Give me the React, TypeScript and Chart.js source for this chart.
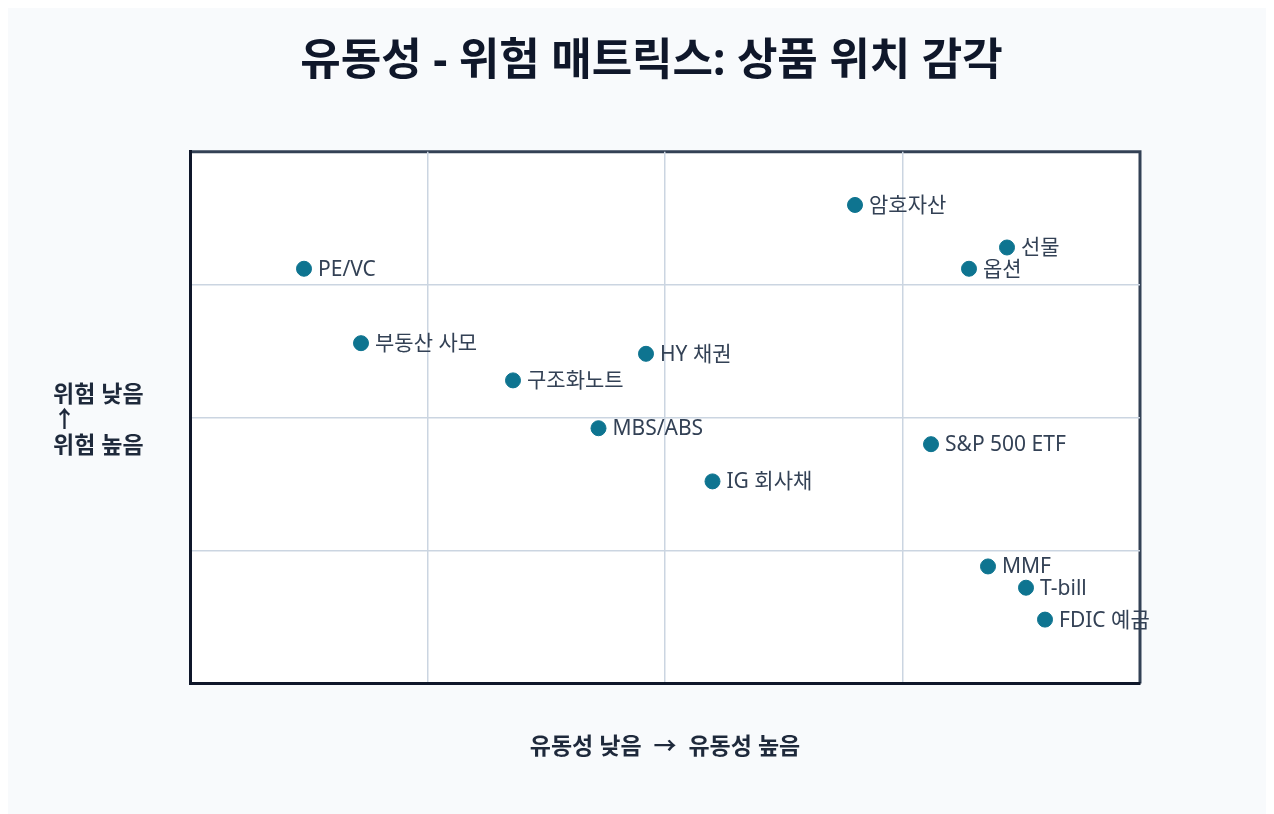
import React, { useEffect, useRef } from "react";
import { Chart, registerables } from "chart.js";

Chart.register(...registerables);

const productNames = [
  "PE/VC",
  "부동산 사모",
  "구조화노트",
  "HY 채권",
  "MBS/ABS",
  "IG 회사채",
  "암호자산",
  "선물",
  "옵션",
  "S&P 500 ETF",
  "MMF",
  "T-bill",
  "FDIC 예금",
];
const liquidityValues = [12, 18, 34, 48, 43, 55, 70, 86, 82, 78, 84, 88, 90];
const riskValues = [78, 64, 57, 62, 48, 38, 90, 82, 78, 45, 22, 18, 12];

const chartTitle = "유동성 - 위험 매트릭스: 상품 위치 감각";
const xAxisTitle = "유동성 낮음  →  유동성 높음";
const yAxisLines = ["위험 낮음", "↑", "위험 높음"];

const POINT_COLOR = "#0e7490";
const FONT_STACK = '"Noto Sans", "Noto Sans CJK KR", sans-serif';

export default function App() {
  const canvasRef = useRef<HTMLCanvasElement | null>(null);

  useEffect(() => {
    const canvas = canvasRef.current;
    if (!canvas) return;

    const frame = {
      id: "frame",
      beforeDraw(chart: any) {
        const { ctx, chartArea } = chart;
        const { left, right, top, bottom } = chartArea;
        ctx.save();
        ctx.fillStyle = "#ffffff";
        ctx.fillRect(left, top, right - left, bottom - top);
        ctx.strokeStyle = "#334155";
        ctx.lineWidth = 3;
        ctx.beginPath();
        ctx.moveTo(left, top);
        ctx.lineTo(right, top);
        ctx.lineTo(right, bottom);
        ctx.stroke();
        ctx.restore();
      },
    };

    const pointLabels = {
      id: "pointLabels",
      afterDatasetsDraw(chart: any) {
        const { ctx } = chart;
        const meta = chart.getDatasetMeta(0);
        ctx.save();
        ctx.font = `21px ${FONT_STACK}`;
        ctx.fillStyle = "#334155";
        ctx.textAlign = "left";
        ctx.textBaseline = "middle";
        meta.data.forEach((el: any, i: number) => {
          ctx.fillText(productNames[i], el.x + 14, el.y + 1);
        });
        ctx.restore();
      },
    };

    const yLabel = {
      id: "yLabel",
      afterDraw(chart: any) {
        const { ctx, chartArea } = chart;
        const cy = (chartArea.top + chartArea.bottom) / 2;
        ctx.save();
        ctx.font = `bold 23px ${FONT_STACK}`;
        ctx.fillStyle = "#1e293b";
        ctx.textAlign = "left";
        ctx.textBaseline = "middle";
        yAxisLines.forEach((line, i) => {
          ctx.fillText(line, chartArea.left - 137, cy + 3 + (i - 1) * 25.5);
        });
        ctx.restore();
      },
    };

    const chart = new Chart(canvas, {
      type: "scatter",
      data: {
        datasets: [
          {
            label: "상품",
            data: liquidityValues.map((x, i) => ({ x, y: riskValues[i] })),
            backgroundColor: POINT_COLOR,
            borderColor: POINT_COLOR,
            borderWidth: 1,
            pointRadius: 7.5,
            pointHoverRadius: 7.5,
          },
        ],
      },
      options: {
        responsive: false,
        animation: false,
        events: [],
        layout: { padding: { left: 155, right: 134, top: 0, bottom: 53 } },
        plugins: {
          legend: { display: false },
          tooltip: { enabled: false },
          title: {
            display: true,
            text: chartTitle,
            color: "#0f172a",
            font: { family: FONT_STACK, size: 44, weight: "bold", lineHeight: 1.2 },
            padding: { top: 28, bottom: 63 },
          },
        },
        scales: {
          x: {
            type: "linear",
            min: 0,
            max: 100,
            ticks: { display: false, stepSize: 25 },
            grid: {
              drawTicks: false,
              color: (c: any) =>
                c.tick && (c.tick.value === 0 || c.tick.value === 100) ? "rgba(0,0,0,0)" : "#cbd5e1",
              lineWidth: 1.5,
            },
            border: { display: true, color: "#0f172a", width: 3 },
            title: {
              display: true,
              text: xAxisTitle,
              color: "#1e293b",
              font: { family: FONT_STACK, size: 23, weight: "bold", lineHeight: 1.2 },
              padding: { top: 50, bottom: 0 },
            },
          },
          y: {
            type: "linear",
            min: 0,
            max: 100,
            ticks: { display: false, stepSize: 25 },
            grid: {
              drawTicks: false,
              color: (c: any) =>
                c.tick && (c.tick.value === 0 || c.tick.value === 100) ? "rgba(0,0,0,0)" : "#cbd5e1",
              lineWidth: 1.5,
            },
            border: { display: true, color: "#0f172a", width: 3 },
            afterFit: (scale: any) => {
              scale.width = 27;
            },
          },
        },
      },
      plugins: [frame, pointLabels, yLabel],
    });

    return () => {
      chart.destroy();
    };
  }, []);

  return (
    <div style={{ width: 1266, height: 806, background: "#f8fafc" }}>
      <canvas ref={canvasRef} width={1266} height={806} style={{ display: "block", width: 1266, height: 806 }} />
    </div>
  );
}
